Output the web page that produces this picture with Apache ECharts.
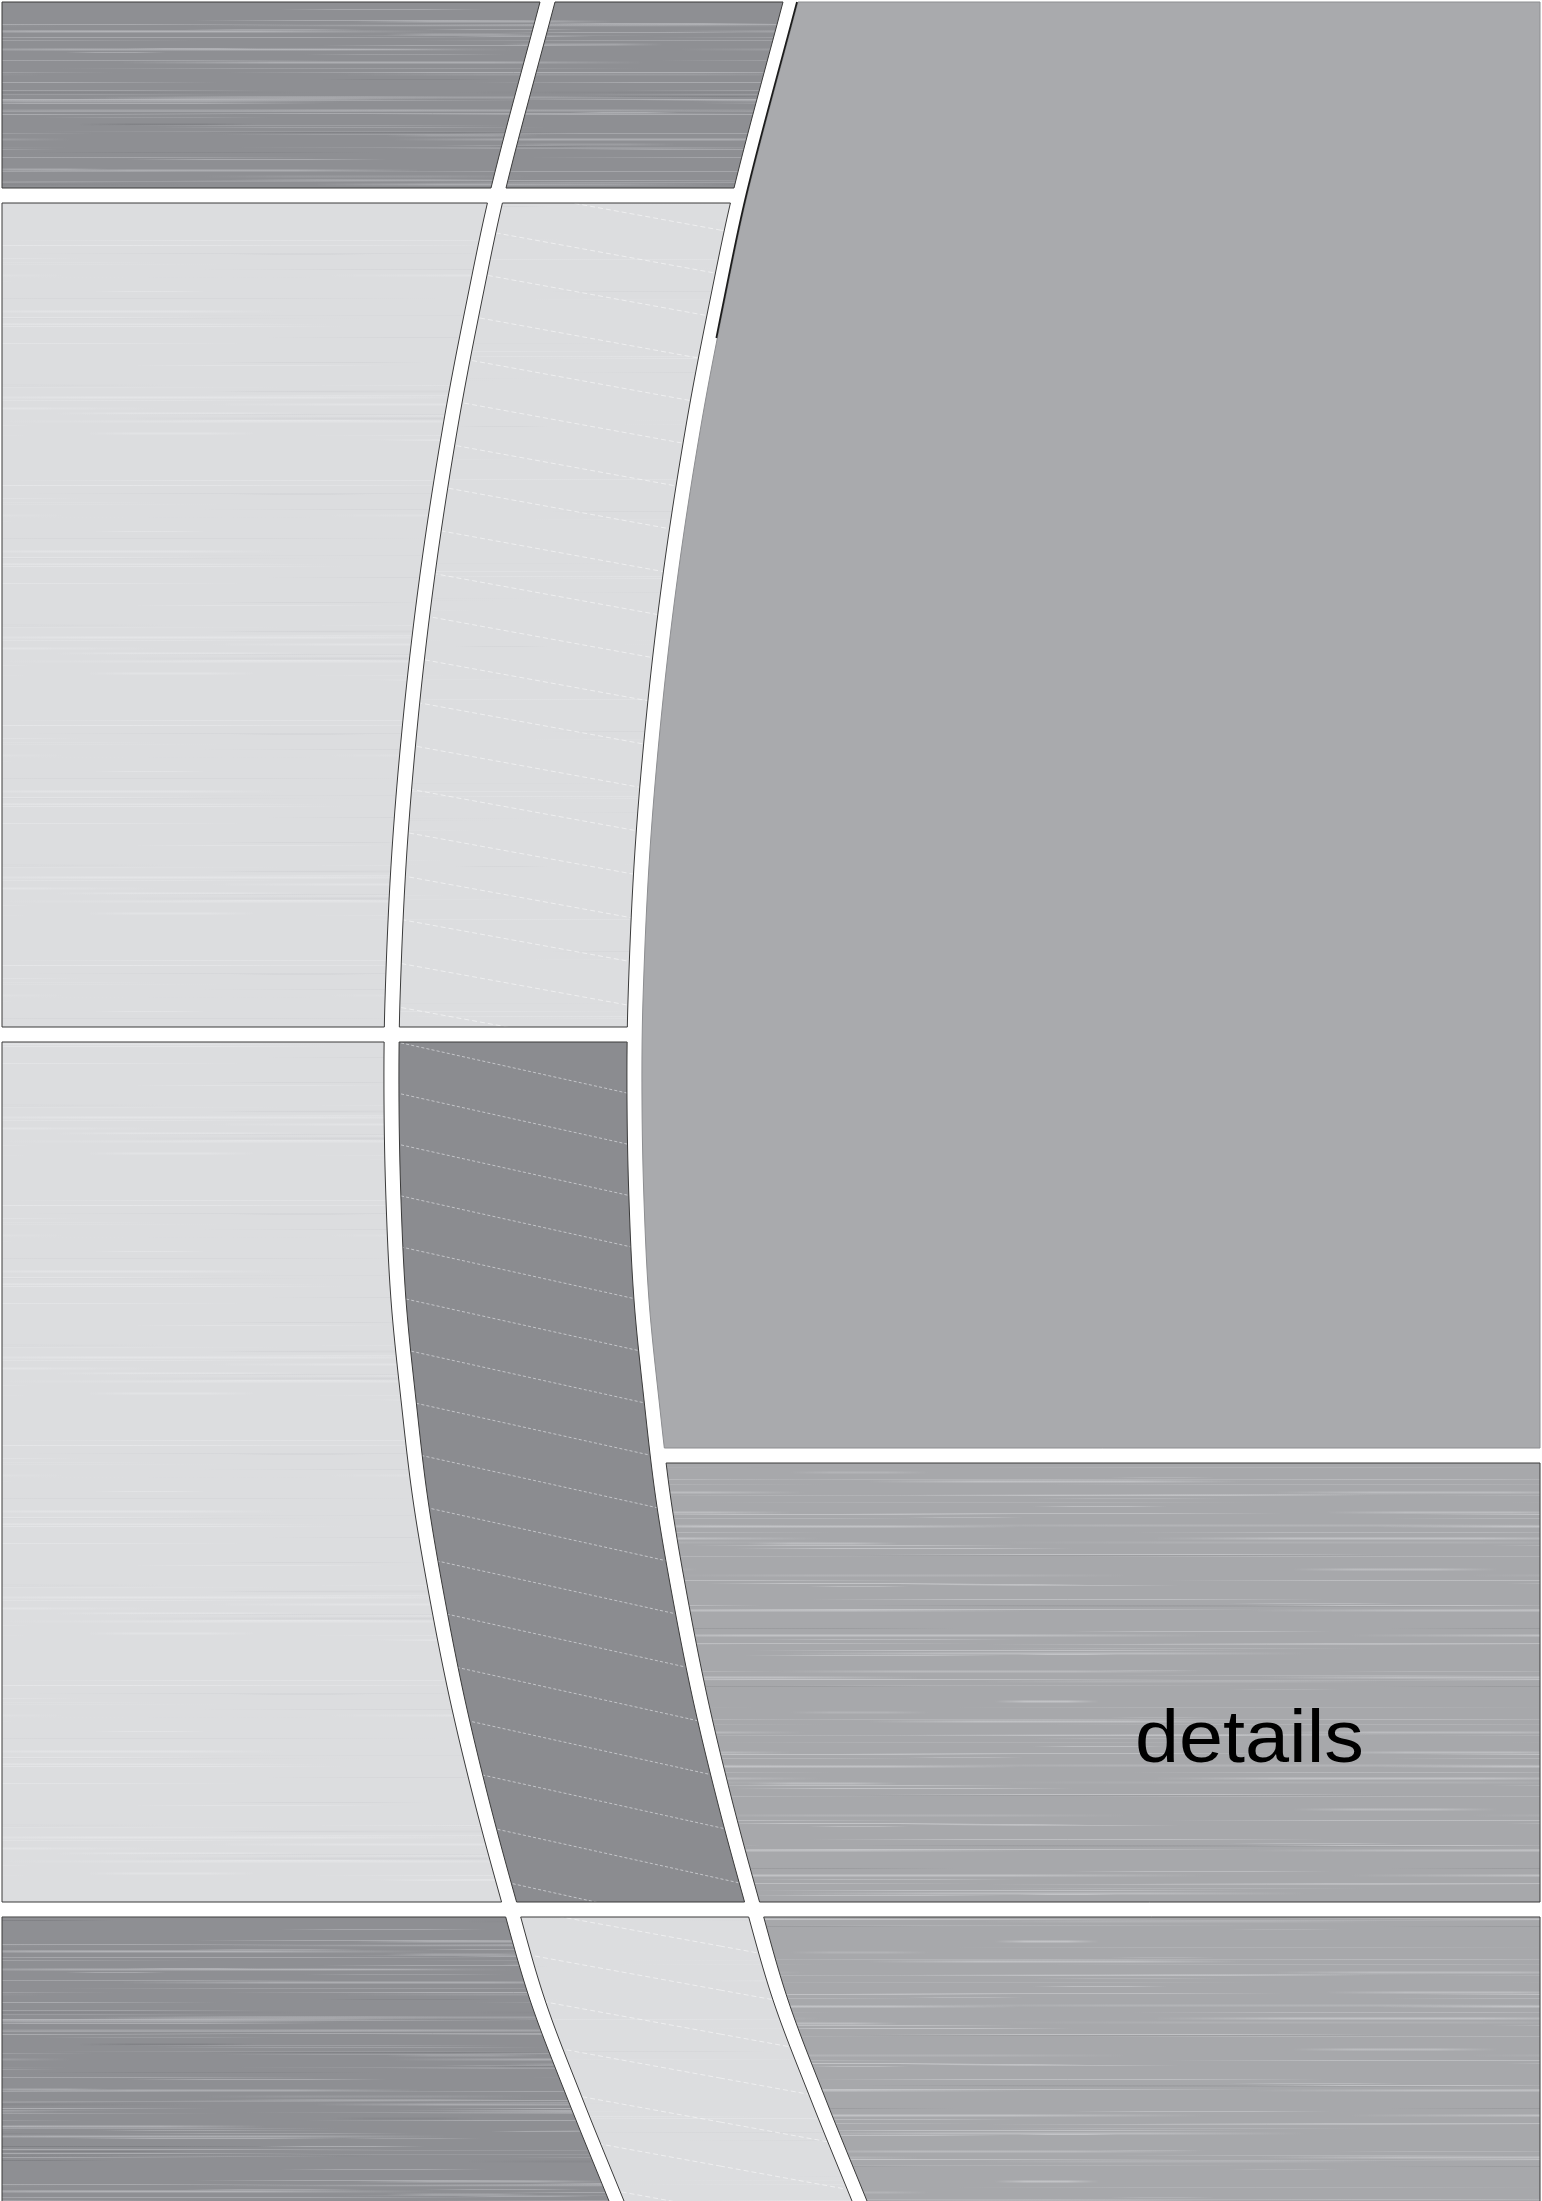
<!DOCTYPE html>
<html>
<head>
<meta charset="utf-8">
<title>details</title>
<style>
html, body { margin: 0; padding: 0; background: #fff; }
#main { width: 1542px; height: 2201px; }
</style>
<script src="https://cdn.jsdelivr.net/npm/echarts@6.0.0/dist/echarts.min.js"></script>
</head>
<body>
<div id="main"></div>
<script>
// left arc (y -> x), the other three arcs are the same curve shifted
var curveY = [2, 188, 300, 420, 560, 700, 850, 1000, 1100, 1200, 1300, 1400, 1500, 1600, 1700, 1800, 1900, 2000, 2100, 2201];
var curveX = [540, 491, 467, 444, 422, 405, 392, 385, 384, 386, 391, 401, 413, 430, 450, 474, 501, 530, 568, 609];
var curveShift = [0, 15, 243, 258];
var pageEdge = { L: 2, R: 1540 };

// panels: left / right boundary (page edge or arc index), top, bottom, tone
var panelNames  = ['topLeft', 'topMid', 'big', 'leftUpper', 'midUpper', 'leftLower', 'midLower', 'rightMid', 'bottomLeft', 'bottomMid', 'bottomRight'];
var panelLeft   = ['L', 1, 3, 'L', 1, 'L', 1, 3, 'L', 1, 3];
var panelRight  = [0, 2, 'R', 0, 2, 0, 2, 'R', 0, 2, 'R'];
var panelTop    = [2, 2, 2, 203, 203, 1042, 1042, 1463, 1917, 1917, 1917];
var panelBottom = [188, 188, 1448, 1027, 1027, 1902, 1902, 1902, 2203, 2203, 2203];
var panelTone   = ['steel', 'steel', 'flat', 'light', 'lightDash', 'light', 'darkDash', 'mid', 'steel', 'lightDash', 'mid'];

var labelText = ['details'];
var labelPos = [[1135, 1762]];

function tangent(i) {
	var n = curveY.length;
	if (i === 0) return (curveX[1] - curveX[0]) / (curveY[1] - curveY[0]);
	if (i === n - 1) return (curveX[n - 1] - curveX[n - 2]) / (curveY[n - 1] - curveY[n - 2]);
	return (curveX[i + 1] - curveX[i - 1]) / (curveY[i + 1] - curveY[i - 1]);
}

function baseX(y) {
	var n = curveY.length;
	if (y <= curveY[0]) return curveX[0] + tangent(0) * (y - curveY[0]);
	if (y >= curveY[n - 1]) return curveX[n - 1] + tangent(n - 1) * (y - curveY[n - 1]);
	var i = 0;
	while (y > curveY[i + 1]) i++;
	var h = curveY[i + 1] - curveY[i];
	var t = (y - curveY[i]) / h, t2 = t * t, t3 = t2 * t;
	return (2 * t3 - 3 * t2 + 1) * curveX[i] + (t3 - 2 * t2 + t) * h * tangent(i)
		+ (-2 * t3 + 3 * t2) * curveX[i + 1] + (t3 - t2) * h * tangent(i + 1);
}

function edgeX(side, y) {
	if (side === 'L' || side === 'R') return pageEdge[side];
	return baseX(y) + curveShift[side];
}

function rgba(c, a) {
	return 'rgba(' + c[0] + ',' + c[1] + ',' + c[2] + ',' + a + ')';
}

// brushed metal tile
function makeTile(t) {
	var c = document.createElement('canvas');
	c.width = t.w;
	c.height = t.h;
	var ctx = c.getContext('2d');
	ctx.fillStyle = t.base;
	ctx.fillRect(0, 0, t.w, t.h);
	var seed = t.seed;
	function rnd() {
		seed = seed * 16807 % 2147483647;
		return (seed - 1) / 2147483646;
	}
	for (var k = 0; k < (t.streaks || 0); k++) {
		var y = Math.floor(rnd() * t.h) + 0.5;
		var len = t.w * (0.12 + rnd() * 0.75);
		var x0 = rnd() * t.w;
		var a = t.alpha * (0.3 + rnd() * 0.7);
		var col = rnd() < t.darkShare ? t.dark : t.light;
		ctx.lineWidth = rnd() < 0.75 ? 1 : 2;
		for (var w = -1; w <= 0; w++) {
			var xs = x0 + w * t.w;
			var g = ctx.createLinearGradient(xs, 0, xs + len, 0);
			g.addColorStop(0, rgba(col, 0));
			g.addColorStop(0.3, rgba(col, a));
			g.addColorStop(0.7, rgba(col, a));
			g.addColorStop(1, rgba(col, 0));
			ctx.strokeStyle = g;
			ctx.beginPath();
			ctx.moveTo(xs, y);
			ctx.lineTo(xs + len, y);
			ctx.stroke();
		}
	}
	if (t.spacing) {
		var drop = t.spacing / t.run * t.w;
		ctx.setLineDash(t.dash);
		ctx.strokeStyle = t.dashColor;
		ctx.lineWidth = 1;
		for (var j = -Math.ceil(drop / t.spacing) - 2; j * t.spacing < t.h + t.spacing; j++) {
			var yy = t.offset + j * t.spacing;
			ctx.beginPath();
			ctx.moveTo(0, yy);
			ctx.lineTo(t.w, yy + drop);
			ctx.stroke();
		}
	}
	return { image: c, repeat: 'repeat' };
}

var tones = {
	steel: {
		fill: makeTile({ w: 800, h: 240, base: '#8e8f93', light: [182, 183, 187], dark: [122, 123, 127], darkShare: 0.15, alpha: 0.8, streaks: 120, seed: 17 }),
		stroke: '#3a3a3a'
	},
	flat: { fill: '#a9aaad', stroke: '#8d8e91' },
	light: {
		fill: makeTile({ w: 800, h: 240, base: '#dcdddf', light: [236, 237, 239], dark: [206, 207, 210], darkShare: 0.3, alpha: 0.5, streaks: 50, seed: 311 }),
		stroke: '#3a3a3a'
	},
	mid: {
		fill: makeTile({ w: 800, h: 240, base: '#a7a8ab', light: [200, 201, 204], dark: [150, 151, 154], darkShare: 0.1, alpha: 0.85, streaks: 70, seed: 977 }),
		stroke: '#3a3a3a'
	},
	darkDash: {
		fill: makeTile({ w: 690, h: 204, base: '#8b8c90', spacing: 51, run: 230, offset: 36, dash: [3, 2.2], dashColor: 'rgba(210,211,215,0.8)', seed: 5 }),
		stroke: '#3a3a3a'
	},
	lightDash: {
		fill: makeTile({ w: 720, h: 220, base: '#dcdddf', light: [236, 237, 239], dark: [206, 207, 210], darkShare: 0.3, alpha: 0.4, streaks: 20, seed: 41,
			spacing: 44, run: 240, offset: 10, dash: [5, 3], dashColor: 'rgba(255,255,255,0.5)' }),
		stroke: '#3a3a3a'
	}
};

function renderPanel(params, api) {
	var i = api.value(0);
	var top = panelTop[i], bottom = panelBottom[i];
	var pts = [];
	var y;
	for (y = top; y < bottom; y += 6) pts.push(api.coord([edgeX(panelLeft[i], y), y]));
	pts.push(api.coord([edgeX(panelLeft[i], bottom), bottom]));
	for (y = bottom; y > top; y -= 6) pts.push(api.coord([edgeX(panelRight[i], y), y]));
	pts.push(api.coord([edgeX(panelRight[i], top), top]));
	var tone = tones[panelTone[i]];
	var children = [{
		type: 'polygon',
		shape: { points: pts },
		style: { fill: tone.fill, stroke: tone.stroke, lineWidth: 1 }
	}];
	if (panelTone[i] === 'flat') {
		var acc = [];
		for (y = top; y <= 340; y += 6) acc.push(api.coord([edgeX(panelLeft[i], y) - 1, y]));
		children.push({
			type: 'polyline',
			shape: { points: acc },
			style: { stroke: '#1c1c1c', lineWidth: 1.8, fill: null }
		});
	}
	return { type: 'group', children: children };
}

function renderLabel(params, api) {
	var p = api.coord([api.value(0), api.value(1)]);
	return {
		type: 'text',
		x: p[0],
		y: p[1] - 20,
		scaleX: 1.07,
		style: {
			text: labelText[params.dataIndex],
			font: '74px "Liberation Sans", Arial, sans-serif',
			fill: '#000',
			align: 'left',
			verticalAlign: 'middle'
		}
	};
}

var myChart = echarts.init(document.getElementById('main'));
var option = {
	animation: false,
	backgroundColor: '#ffffff',
	grid: { left: 0, right: 0, top: 0, bottom: 0 },
	xAxis: { type: 'value', min: 0, max: 1542, show: false },
	yAxis: { type: 'value', min: 0, max: 2201, inverse: true, show: false },
	series: [{
		type: 'custom',
		name: 'panels',
		silent: true,
		renderItem: renderPanel,
		data: panelNames.map(function (n, i) { return [i, 0]; })
	}, {
		type: 'custom',
		name: 'label',
		silent: true,
		renderItem: renderLabel,
		data: labelPos
	}]
};
myChart.setOption(option);
window.addEventListener('resize', function () { myChart.resize(); });
</script>
</body>
</html>
